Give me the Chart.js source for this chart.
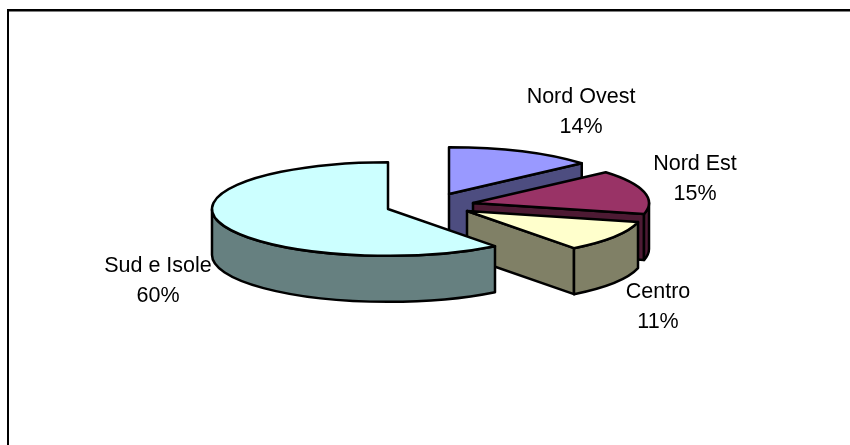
<!DOCTYPE html>
<html>
<head>
<meta charset="utf-8">
<title>Ripartizione per area</title>
<script src="https://cdn.jsdelivr.net/npm/chart.js@4"></script>
<style>
    html, body { margin: 0; padding: 0; background: #fff; }
    canvas { display: block; }
</style>
</head>
<body>
<canvas id="pieChart" width="850" height="445"></canvas>
<script>
/* data, labels show them rounded */
const areaLabels = ["Nord Ovest", "Nord Est", "Centro", "Sud e Isole"];
const areaShares = [13.6, 15.2, 10.8, 60.4];

/* look of the tilted pie */
const topColors = ["#9999FF", "#993366", "#FFFFCC", "#CCFFFF"];
const sideColors = ["#4D4D80", "#4D1A33", "#808066", "#668080"];
const sliceApex = [[449, 194], [473, 203], [467, 211], [388, 209]];
const labelSpots = [[581, 103], [695, 170], [658, 298], [158, 272]];
const pieRadius = 176;
const tilt = 0.266;
const pieDepth = 46;

function drawSlice(ctx, arc, i) {
    const [ax, ay] = sliceApex[i];
    const r = arc.outerRadius;
    const ry = r * tilt;
    const start = arc.startAngle, end = arc.endAngle;
    const edgeX = a => ax + r * Math.cos(a);
    const edgeY = a => ay + ry * Math.sin(a);

    ctx.lineWidth = 2.5;
    ctx.lineJoin = "round";
    ctx.strokeStyle = "#000";
    ctx.fillStyle = sideColors[i];

    // cut faces that look towards the viewer
    [[start, Math.cos(start) < -1e-6], [end, Math.cos(end) > 1e-6]].forEach(([a, visible]) => {
        if (!visible) return;
        ctx.beginPath();
        ctx.moveTo(ax, ay);
        ctx.lineTo(edgeX(a), edgeY(a));
        ctx.lineTo(edgeX(a), edgeY(a) + pieDepth);
        ctx.lineTo(ax, ay + pieDepth);
        ctx.closePath();
        ctx.fill();
        ctx.stroke();
    });

    // outer rim, front half only
    const rimFrom = Math.max(start, 0), rimTo = Math.min(end, Math.PI);
    if (rimTo > rimFrom) {
        ctx.beginPath();
        ctx.ellipse(ax, ay, r, ry, 0, rimFrom, rimTo);
        ctx.ellipse(ax, ay + pieDepth, r, ry, 0, rimTo, rimFrom, true);
        ctx.closePath();
        ctx.fill();
        ctx.stroke();
    }

    // top face: the library's own arc, squashed
    ctx.save();
    ctx.translate(ax, ay);
    ctx.scale(1, tilt);
    ctx.translate(-arc.x, -arc.y);
    arc.draw(ctx);
    ctx.restore();

    ctx.beginPath();
    ctx.ellipse(ax, ay, r, ry, 0, start, end);
    ctx.lineTo(ax, ay);
    ctx.closePath();
    ctx.stroke();
}

const tiltedPie = {
    id: "tiltedPie",
    beforeDatasetsDraw(chart) {
        const ctx = chart.ctx;
        const arcs = chart.getDatasetMeta(0).data;
        ctx.save();

        // frame, only top and left are in the picture
        ctx.fillStyle = "#000";
        ctx.fillRect(7, 9, 843, 2.5);
        ctx.fillRect(7, 9, 2, 436);

        arcs.forEach((arc, i) => drawSlice(ctx, arc, i));

        ctx.fillStyle = "#000";
        ctx.font = '21.5px "Liberation Sans", Arial, sans-serif';
        ctx.textAlign = "center";
        ctx.textBaseline = "alphabetic";
        areaLabels.forEach((name, i) => {
            const [x, y] = labelSpots[i];
            ctx.fillText(name, x, y);
            ctx.fillText(Math.round(areaShares[i]) + "%", x, y + 30);
        });

        ctx.restore();
        return false;
    }
};

new Chart(document.getElementById("pieChart"), {
    type: "pie",
    data: {
        labels: areaLabels,
        datasets: [{
            data: areaShares,
            backgroundColor: topColors,
            borderWidth: 0,
            radius: pieRadius
        }]
    },
    options: {
        responsive: false,
        animation: false,
        plugins: {
            legend: { display: false },
            tooltip: { enabled: false }
        }
    },
    plugins: [tiltedPie]
});
</script>
</body>
</html>
